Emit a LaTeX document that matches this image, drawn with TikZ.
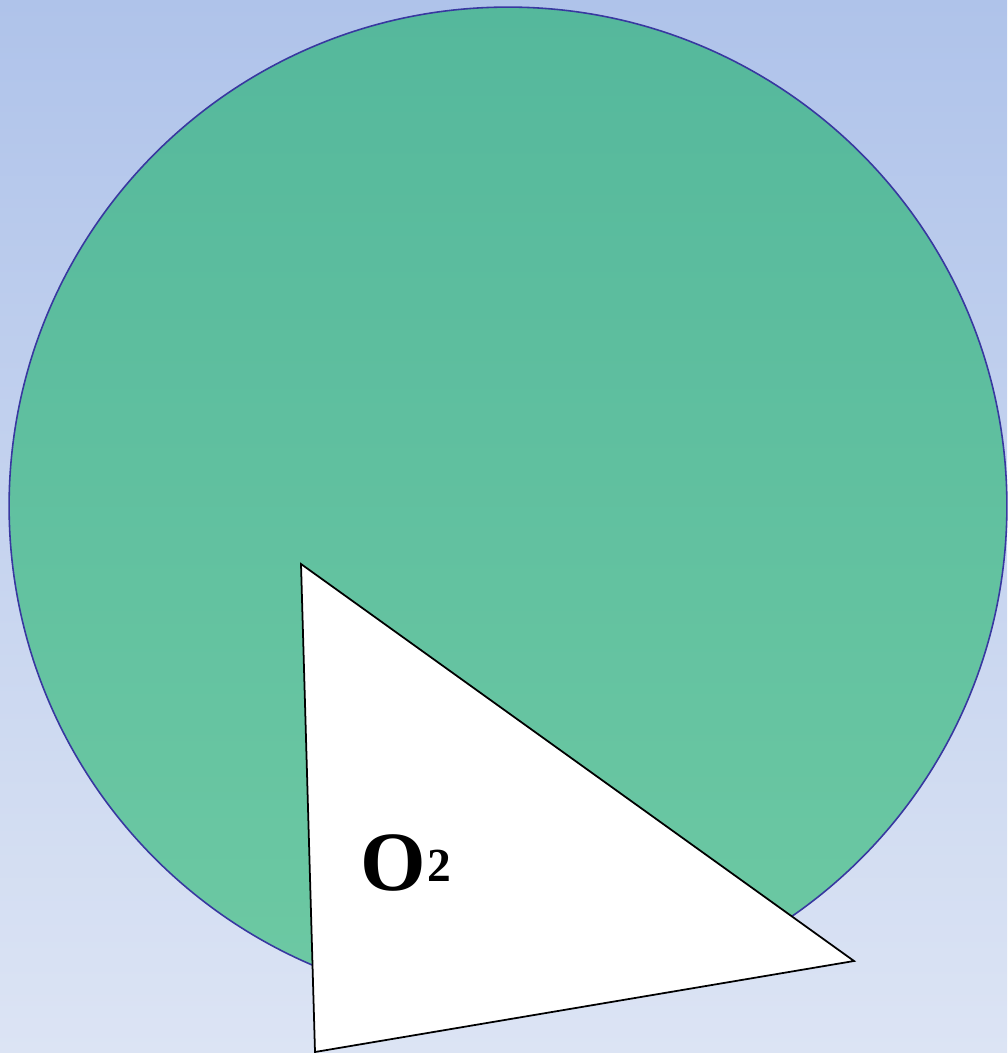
\documentclass[tikz,border=0pt]{standalone}
\usepackage{fontspec}
\setmainfont{Liberation Serif}
\usetikzlibrary{calc}
\definecolor{SkyTop}{HTML}{AFC3EA}
\definecolor{SkyBottom}{HTML}{DCE4F4}
\definecolor{DiscTop}{HTML}{55B89C}
\definecolor{DiscBottom}{HTML}{6DC9A3}
\definecolor{DiscLine}{HTML}{3838A0}
\tikzset{
  sky back/.style={top color=SkyTop,bottom color=SkyBottom,draw=none},
  disc/.style={top color=DiscTop,bottom color=DiscBottom,draw=DiscLine,line width=0.9pt},
  wedge/.style={fill=white,draw=black,line width=1pt,line join=miter},
  gas label/.style={inner sep=0pt,text=black,font=\bfseries}
}
\begin{document}
\begin{tikzpicture}[x=0.02cm,y=-0.02cm]
  % background
  \fill[sky back] (0,0) rectangle (1007,1053);
  \useasboundingbox (0,0) rectangle (1007,1053);

  \coordinate (centre) at (508,506);
  \fill[disc] (centre) circle[radius=9.98cm];

  \coordinate (tipA) at (301,564);
  \coordinate (tipB) at (854,961);
  \coordinate (tipC) at (315,1052);
  \draw[wedge] (tipA) -- (tipB) -- (tipC) -- cycle;

  \node[gas label,anchor=base west] (oxygen) at (360,890)
    {\fontsize{48}{50}\selectfont O\kern1pt\raisebox{5pt}{\fontsize{27}{29}\selectfont 2}};
\end{tikzpicture}
\end{document}
